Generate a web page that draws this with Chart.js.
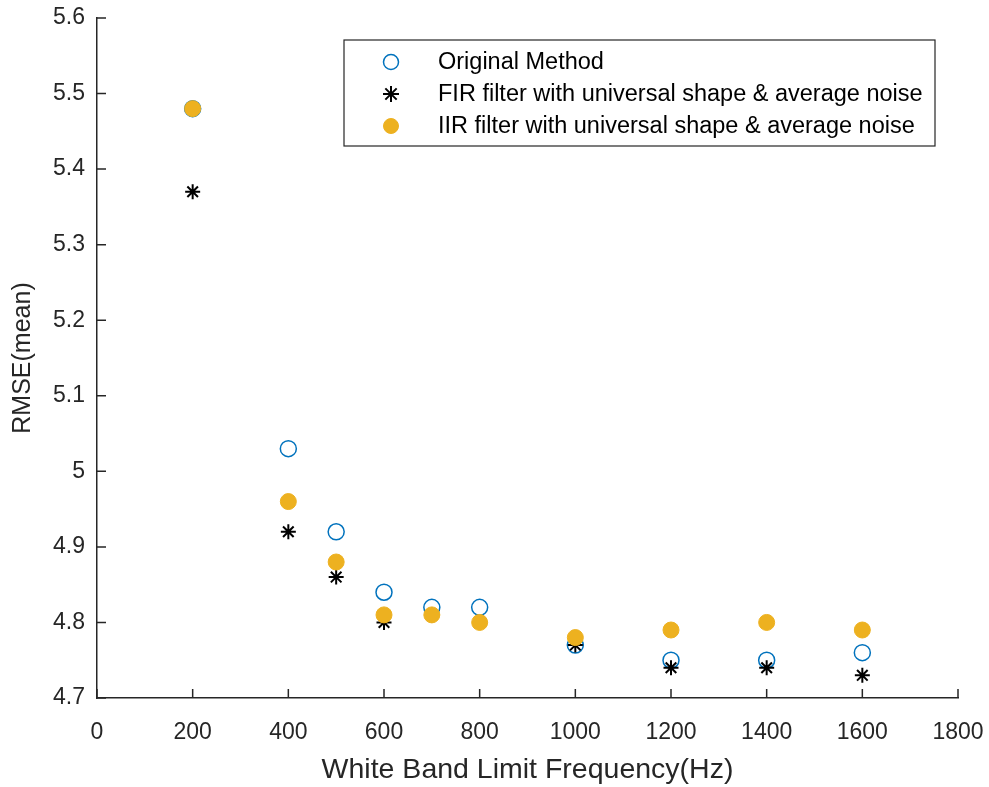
<!DOCTYPE html>
<html>
<head>
<meta charset="utf-8">
<script src="https://cdn.jsdelivr.net/npm/chart.js@4"></script>
<style>
  html, body { margin: 0; padding: 0; background: #fff; }
  #wrap { width: 989px; height: 787px; }
</style>
</head>
<body>
<div id="wrap"><canvas id="rmseChart" width="989" height="787"></canvas></div>
<script>
const freqs = [200, 400, 500, 600, 700, 800, 1000, 1200, 1400, 1600];
const originalRmse = [5.48, 5.03, 4.92, 4.84, 4.82, 4.82, 4.77, 4.75, 4.75, 4.76];
const firRmse = [5.37, 4.92, 4.86, 4.80, 4.81, 4.80, 4.77, 4.74, 4.74, 4.73];
const iirRmse = [5.48, 4.96, 4.88, 4.81, 4.81, 4.80, 4.78, 4.79, 4.80, 4.79];
const seriesNames = [
    "Original Method",
    "FIR filter with universal shape & average noise",
    "IIR filter with universal shape & average noise"
];

const toPoints = vals => freqs.map((f, i) => ({ x: f, y: vals[i] }));
const FONT = "'Liberation Sans', Arial, sans-serif";
const AXIS_COLOR = "#262626";

// ticks pointing into the plot, MATLAB style
const innerTicks = {
    id: "innerTicks",
    afterDraw(chart) {
        const ctx = chart.ctx;
        const area = chart.chartArea;
        const xs = chart.scales.x, ys = chart.scales.y;
        ctx.save();
        ctx.strokeStyle = AXIS_COLOR;
        ctx.lineWidth = 1.5;
        ctx.beginPath();
        xs.ticks.forEach(t => {
            const px = xs.getPixelForValue(t.value);
            ctx.moveTo(px, area.bottom);
            ctx.lineTo(px, area.bottom - 9);
        });
        ys.ticks.forEach(t => {
            const py = ys.getPixelForValue(t.value);
            ctx.moveTo(area.left, py);
            ctx.lineTo(area.left + 9, py);
        });
        ctx.stroke();
        ctx.restore();
    }
};

// boxed legend inside the plot
const boxLegend = {
    id: "boxLegend",
    afterDraw(chart) {
        const ctx = chart.ctx;
        const x0 = 344, y0 = 40, w = 591, h = 106;
        ctx.save();
        ctx.fillStyle = "#fff";
        ctx.fillRect(x0, y0, w, h);
        ctx.strokeStyle = AXIS_COLOR;
        ctx.lineWidth = 1.2;
        ctx.strokeRect(x0, y0, w, h);
        ctx.font = "23.5px " + FONT;
        ctx.textBaseline = "middle";
        chart.data.datasets.forEach((ds, i) => {
            const cy = y0 + 22 + i * 32;
            const mx = 391;
            ctx.lineWidth = ds.borderWidth;
            ctx.strokeStyle = ds.borderColor;
            ctx.fillStyle = ds.backgroundColor;
            if (ds.pointStyle === "star") {
                ctx.beginPath();
                for (let k = 0; k < 4; k++) {
                    const a = k * Math.PI / 4;
                    ctx.moveTo(mx - 8 * Math.cos(a), cy - 8 * Math.sin(a));
                    ctx.lineTo(mx + 8 * Math.cos(a), cy + 8 * Math.sin(a));
                }
                ctx.stroke();
            } else {
                ctx.beginPath();
                ctx.arc(mx, cy, 7.5, 0, Math.PI * 2);
                ctx.fill();
                ctx.stroke();
            }
            ctx.fillStyle = "#000";
            ctx.fillText(ds.label, 438, cy + 1);
        });
        ctx.restore();
    }
};

const ctx = document.getElementById("rmseChart").getContext("2d");
const rmseChart = new Chart(ctx, {
    type: "scatter",
    data: {
        datasets: [
            {
                label: seriesNames[0],
                data: toPoints(originalRmse),
                pointStyle: "circle",
                pointRadius: 8,
                borderWidth: 1.5,
                borderColor: "#0072BD",
                backgroundColor: "rgba(255,255,255,0)",
                order: 3
            },
            {
                label: seriesNames[1],
                data: toPoints(firRmse),
                pointStyle: "star",
                pointRadius: 7.5,
                borderWidth: 2,
                borderColor: "#000000",
                backgroundColor: "#000000",
                order: 2
            },
            {
                label: seriesNames[2],
                data: toPoints(iirRmse),
                pointStyle: "circle",
                pointRadius: 8,
                borderWidth: 1,
                borderColor: "#EDB120",
                backgroundColor: "#EDB120",
                order: 1
            }
        ]
    },
    options: {
        responsive: false,
        animation: false,
        layout: { padding: { top: 18, right: 31, left: 0, bottom: 0 } },
        plugins: {
            legend: { display: false },
            tooltip: { enabled: false }
        },
        scales: {
            x: {
                type: "linear",
                min: 0,
                max: 1800,
                afterFit(scale) {
                    scale.height = 89;
                    scale.paddingLeft = 0;
                    scale.paddingRight = 0;
                },
                border: { display: true, color: AXIS_COLOR, width: 1.5 },
                grid: { display: false },
                ticks: {
                    stepSize: 200,
                    color: "#262626",
                    padding: 13,
                    font: { family: FONT, size: 23 },
                    callback: v => String(v)
                },
                title: {
                    display: true,
                    text: "White Band Limit Frequency(Hz)",
                    color: "#262626",
                    padding: { top: 2, bottom: 0 },
                    font: { family: FONT, size: 28.5 }
                }
            },
            y: {
                min: 4.7,
                max: 5.6,
                afterFit(scale) {
                    scale.width = 97;
                    scale.paddingTop = 0;
                    scale.paddingBottom = 0;
                },
                border: { display: true, color: AXIS_COLOR, width: 1.5 },
                grid: { display: false },
                ticks: {
                    stepSize: 0.1,
                    color: "#262626",
                    padding: 4,
                    font: { family: FONT, size: 23 },
                    callback: v => Number(v.toFixed(1)).toString()
                },
                title: {
                    display: true,
                    text: "RMSE(mean)",
                    color: "#262626",
                    padding: { top: 8, bottom: 8 },
                    font: { family: FONT, size: 25 }
                }
            }
        }
    },
    plugins: [innerTicks, boxLegend]
});
</script>
</body>
</html>
